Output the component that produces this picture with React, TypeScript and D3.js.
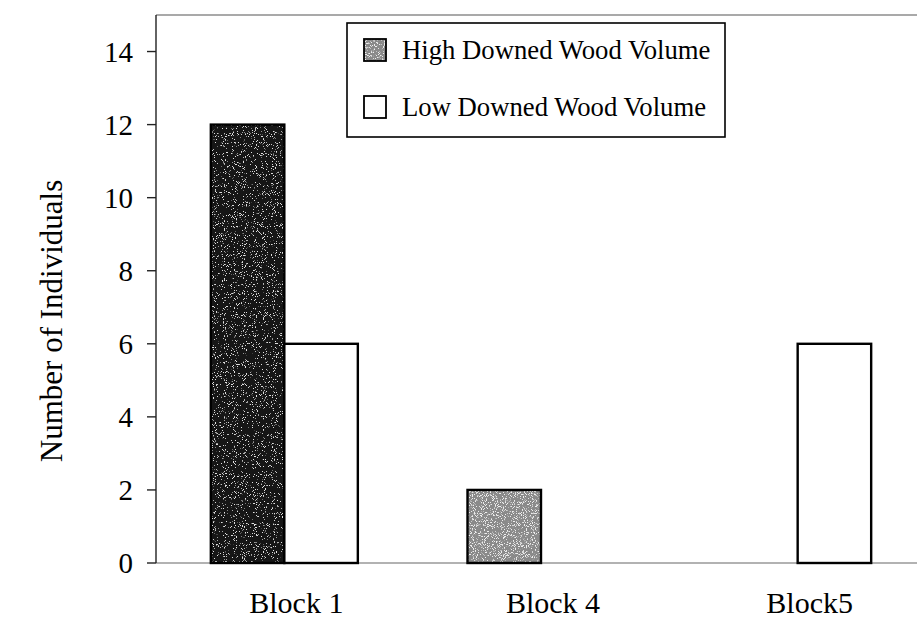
import React from "react";
import * as d3 from "d3";

// Counts of individuals per block, by downed wood volume
const blocks = ["Block 1", "Block 4", "Block5"];
const seriesNames = ["High Downed Wood Volume", "Low Downed Wood Volume"];
const highVolume = [12, 2, 0];
const lowVolume = [6, 0, 6];
const highFills = ["#121212", "#8a8a8a", "#8a8a8a"];
const yTicks = [0, 2, 4, 6, 8, 10, 12, 14];

const W = 917;
const H = 618;
const plot = { left: 156, top: 15, right: 926, bottom: 563 };

export default function App() {
  const x0 = d3.scaleBand<string>().domain(blocks).range([plot.left, plot.right]);
  const x1 = d3
    .scaleBand<string>()
    .domain(seriesNames)
    .range([0, x0.bandwidth()])
    .paddingInner(0)
    .paddingOuter(0.746);
  const y = d3.scaleLinear().domain([0, 15]).range([plot.bottom, plot.top]);

  const serif = "'Liberation Serif', 'Times New Roman', serif";
  const values = [highVolume, lowVolume];

  return (
    <div style={{ position: "absolute", left: 0, top: 0 }}>
      <svg width={W} height={H} style={{ display: "block", background: "#fff" }}>
        <defs>
          {/* sparse light speckles over the dark fill */}
          <filter id="grainDark" x="0" y="0" width="100%" height="100%">
            <feTurbulence type="fractalNoise" baseFrequency="1.1" numOctaves="2" seed="3" result="n" />
            <feColorMatrix
              in="n"
              type="matrix"
              values="0 0 0 0 0.75  0 0 0 0 0.75  0 0 0 0 0.75  0 0 0 -14 5.0"
              result="dots"
            />
            <feComposite in="dots" in2="SourceGraphic" operator="in" result="speck" />
            <feMerge>
              <feMergeNode in="SourceGraphic" />
              <feMergeNode in="speck" />
            </feMerge>
          </filter>
          {/* mixed light/dark speckles over the grey fill */}
          <filter id="grainGrey" x="0" y="0" width="100%" height="100%">
            <feTurbulence type="fractalNoise" baseFrequency="1.1" numOctaves="2" seed="7" result="n" />
            <feColorMatrix
              in="n"
              type="matrix"
              values="0 0 0 0 0.85  0 0 0 0 0.85  0 0 0 0 0.85  0 0 0 -10 4.3"
              result="light"
            />
            <feColorMatrix
              in="n"
              type="matrix"
              values="0 0 0 0 0.25  0 0 0 0 0.25  0 0 0 0 0.25  0 0 0 10 -5.8"
              result="dark"
            />
            <feComposite in="light" in2="SourceGraphic" operator="in" result="l2" />
            <feComposite in="dark" in2="SourceGraphic" operator="in" result="d2" />
            <feMerge>
              <feMergeNode in="SourceGraphic" />
              <feMergeNode in="l2" />
              <feMergeNode in="d2" />
            </feMerge>
          </filter>
        </defs>

        {/* plot frame: top and bottom lines */}
        <line x1={plot.left} x2={W} y1={plot.top} y2={plot.top} stroke="#555" strokeWidth={1.2} />
        <line x1={plot.left} x2={W} y1={plot.bottom} y2={plot.bottom} stroke="#666" strokeWidth={1.2} />

        {/* bars */}
        {blocks.map((b, i) =>
          seriesNames.map((s, si) => {
            const v = values[si][i];
            if (v <= 0) return null;
            const bx = (x0(b) ?? 0) + (x1(s) ?? 0);
            const by = y(v);
            const bw = x1.bandwidth();
            const bh = y(0) - by;
            const isHigh = si === 0;
            const fill = isHigh ? highFills[i] : "#fff";
            const grain = i === 0 ? "url(#grainDark)" : "url(#grainGrey)";
            return (
              <g key={b + s}>
                <rect
                  x={bx}
                  y={by}
                  width={bw}
                  height={bh}
                  fill={fill}
                  filter={isHigh ? grain : undefined}
                />
                <rect
                  x={bx}
                  y={by}
                  width={bw}
                  height={bh}
                  fill="none"
                  stroke="#000"
                  strokeWidth={2.4}
                />
              </g>
            );
          })
        )}

        {/* y axis */}
        <line x1={plot.left} x2={plot.left} y1={plot.top} y2={plot.bottom} stroke="#222" strokeWidth={1.4} />
        {yTicks.map((t) => (
          <g key={t}>
            <line x1={plot.left - 9} x2={plot.left} y1={y(t)} y2={y(t)} stroke="#222" strokeWidth={1.4} />
            <text
              x={133}
              y={y(t)}
              dy="0.35em"
              textAnchor="end"
              fontFamily={serif}
              fontSize={29}
              fill="#000"
            >
              {t}
            </text>
          </g>
        ))}

        {/* category labels */}
        {blocks.map((b) => (
          <text
            key={b}
            x={(x0(b) ?? 0) + x0.bandwidth() / 2 + 12}
            y={613}
            textAnchor="middle"
            fontFamily={serif}
            fontSize={30}
            fill="#000"
          >
            {b}
          </text>
        ))}

        {/* y axis title */}
        <text
          transform={`translate(62, 321) rotate(-90)`}
          textAnchor="middle"
          fontFamily={serif}
          fontSize={31}
          fill="#000"
        >
          Number of Individuals
        </text>

        {/* legend */}
        <g>
          <rect x={347} y={23} width={378} height={114} fill="#fff" stroke="#000" strokeWidth={1.6} />
          {seriesNames.map((s, si) => (
            <g key={s} transform={`translate(0, ${si * 57})`}>
              <rect
                x={364}
                y={39}
                width={22}
                height={22}
                fill={si === 0 ? "#8a8a8a" : "#fff"}
                filter={si === 0 ? "url(#grainGrey)" : undefined}
              />
              <rect
                x={364}
                y={39}
                width={22}
                height={22}
                fill="none"
                stroke="#000"
                strokeWidth={1.8}
              />
              <text x={402} y={59} fontFamily={serif} fontSize={26.7} fill="#000">
                {s}
              </text>
            </g>
          ))}
        </g>
      </svg>
    </div>
  );
}
